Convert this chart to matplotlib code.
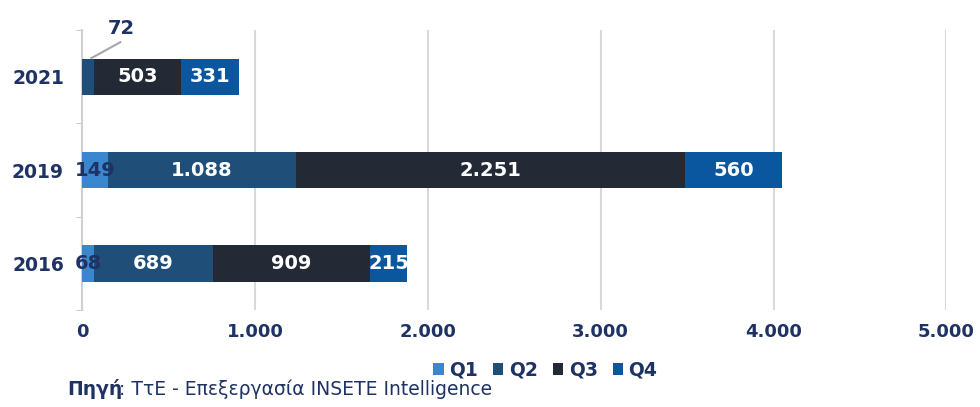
import matplotlib.pyplot as plt
import numpy as np

# --- data ---
years = ['2016', '2019', '2021']
quarters = ['Q1', 'Q2', 'Q3', 'Q4']
q1 = [68, 149, 0]
q2 = [689, 1088, 72]
q3 = [909, 2251, 503]
q4 = [215, 560, 331]
xticks = [0, 1000, 2000, 3000, 4000, 5000]

colors = ['#3A87CF', '#1F4E79', '#232A35', '#0A57A0']
navy = '#1F3264'

def fmt(v):
    return f'{v:,}'.replace(',', '.')

fig = plt.figure(figsize=(9.8, 4.07), dpi=100)
ax = fig.add_axes([0.0837, 0.238, 0.882, 0.688])

y = np.arange(len(years))
left = np.zeros(len(years))
series = [q1, q2, q3, q4]
for k, (vals, c) in enumerate(zip(series, colors)):
    vals = np.array(vals)
    bars = ax.barh(y, vals, left=left, height=0.39, color=c, label=quarters[k], zorder=3)
    for i, b in enumerate(bars):
        v = vals[i]
        if v == 0:
            continue
        cx = left[i] + v / 2
        if k == 0:
            ax.text(cx, y[i], fmt(v), ha='center', va='center', color=navy,
                    fontsize=14, fontweight='bold', zorder=4)
        elif v < 100:
            # small segment: label above with a leader line
            lx, ly = cx + 190, y[i] + 0.52
            ax.plot([left[i] + v * 0.75, lx - 5], [y[i] + 0.2, y[i] + 0.37],
                    color='#A6A6A6', lw=1.5, zorder=4, clip_on=False)
            ax.text(lx, ly, fmt(v), ha='center', va='center', color=navy,
                    fontsize=14, fontweight='bold', zorder=4, clip_on=False)
        else:
            ax.text(cx, y[i], fmt(v), ha='center', va='center', color='white',
                    fontsize=14, fontweight='bold', zorder=4)
    left = left + vals

ax.set_xlim(0, 5000)
ax.set_ylim(-0.5, 2.5)
ax.set_xticks(xticks)
ax.set_xticklabels([fmt(t) for t in xticks], color=navy, fontsize=13, fontweight='bold')
ax.set_yticks(y)
ax.set_yticklabels(years, color=navy, fontsize=13.5, fontweight='bold')
ax.tick_params(axis='x', length=0, pad=9)
ax.tick_params(axis='y', length=0, pad=13)
ax.set_yticks([-0.5, 0.5, 1.5, 2.5], minor=True)
ax.tick_params(axis='y', which='minor', length=4, color='#BFBFBF')
ax.grid(axis='x', color='#D9D9D9', lw=1.5, zorder=0)
for s in ['top', 'right', 'bottom']:
    ax.spines[s].set_visible(False)
ax.spines['left'].set_color('#D0D0D0')
ax.spines['left'].set_linewidth(1.5)

leg = ax.legend(loc='upper center', bbox_to_anchor=(0.536, -0.12), ncol=4, frameon=False,
                handlelength=0.55, handleheight=0.55, handletextpad=0.3, columnspacing=0.8,
                prop={'size': 13.5, 'weight': 'bold'})
for t in leg.get_texts():
    t.set_color(navy)

fig.text(0.069, 0.03, 'Πηγή', fontsize=13.5, fontweight='bold', color=navy)
fig.text(0.121, 0.03, ': ΤτΕ - Επεξεργασία INSETE Intelligence', fontsize=13.5, color=navy)

plt.savefig('out.png', dpi=100)
